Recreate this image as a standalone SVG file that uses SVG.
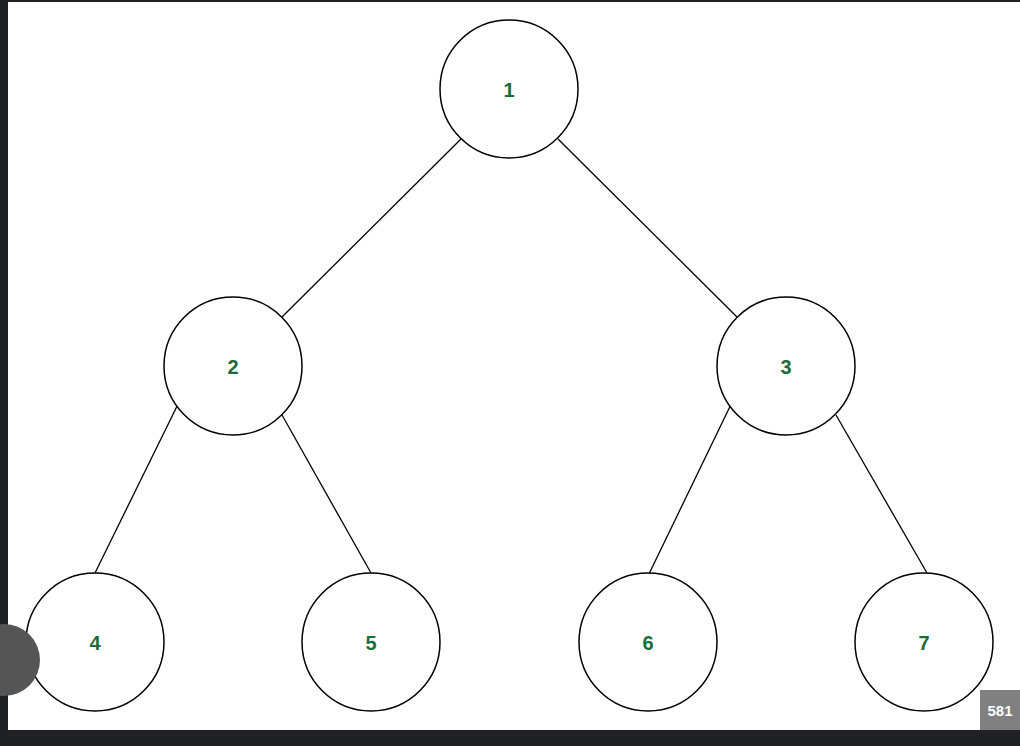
<svg xmlns="http://www.w3.org/2000/svg" width="1020" height="746" viewBox="0 0 1020 746">
<style>
.n circle{fill:#fff;stroke:#000;stroke-width:1.5}
.n text{font-family:"Liberation Sans",Arial,sans-serif;font-weight:bold;font-size:20px;fill:#1e6b3a;text-anchor:middle;dominant-baseline:central}
.e line{stroke:#000;stroke-width:1.3}
</style>
<rect width="1020" height="746" fill="#fff"/>
<rect x="0" y="0" width="8" height="746" fill="#202124"/>
<rect x="0" y="0" width="1020" height="2" fill="#202124"/>
<g class="e">
<line x1="461" y1="139" x2="282" y2="317"/>
<line x1="558" y1="139" x2="737" y2="317"/>
<line x1="184" y1="392" x2="95" y2="573"/>
<line x1="282" y1="415" x2="371" y2="573"/>
<line x1="737" y1="392" x2="648" y2="576"/>
<line x1="836" y1="415" x2="927" y2="573"/>
</g>
<g id="n1" class="n"><circle cx="509" cy="89" r="69"/><text x="509" y="90">1</text></g>
<g id="n2" class="n"><circle cx="233" cy="366" r="69"/><text x="233" y="367">2</text></g>
<g id="n3" class="n"><circle cx="786" cy="366" r="69"/><text x="786" y="367">3</text></g>
<g id="n4" class="n"><circle cx="95" cy="642" r="69"/><text x="95" y="643">4</text></g>
<g id="n5" class="n"><circle cx="371" cy="642" r="69"/><text x="371" y="643">5</text></g>
<g id="n6" class="n"><circle cx="648" cy="642" r="69"/><text x="648" y="643">6</text></g>
<g id="n7" class="n"><circle cx="924" cy="642" r="69"/><text x="924" y="643">7</text></g>
<circle cx="4" cy="660" r="36" fill="#555"/>
<rect x="0" y="730" width="1020" height="16" fill="#202124"/>
<rect x="980" y="690" width="40" height="40" fill="#808080"/>
<text x="1000" y="716" font-family="Liberation Sans,Arial,sans-serif" font-weight="bold" font-size="15" fill="#fff" text-anchor="middle">581</text>
</svg>
